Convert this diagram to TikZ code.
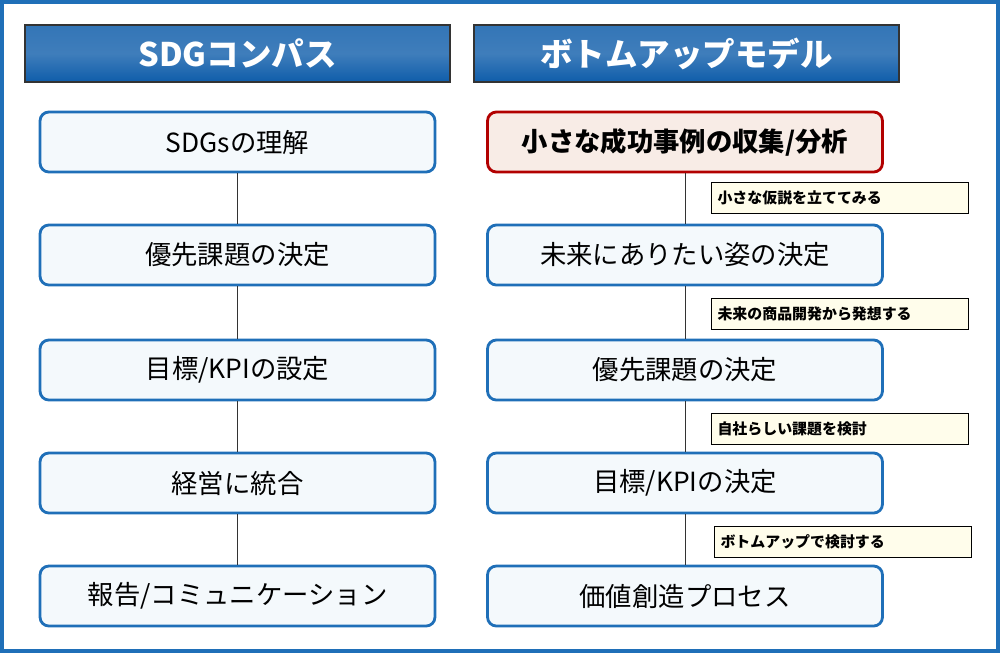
\documentclass[tikz,border=0pt]{standalone}
\usepackage{fontspec}
\setmainfont{Noto Sans CJK JP}
\usepackage{xcolor}
\usetikzlibrary{positioning}
\definecolor{frameblue}{HTML}{1F6FB8}
\definecolor{headblue}{HTML}{0F5DAA}
\definecolor{boxfill}{HTML}{F4F9FC}
\definecolor{redfill}{HTML}{F8ECE6}
\definecolor{notefill}{HTML}{FFFDEB}
\tikzset{
  header/.style={draw=black!80, line width=0.8pt, top color=headblue!85, bottom color=headblue, middle color=headblue!80,
    minimum width=8.5cm, minimum height=1.14cm, text=white, font=\fontsize{18.5}{22}\selectfont\bfseries},
  stepbox/.style={draw=frameblue, line width=1.6pt, rounded corners=5pt, fill=boxfill,
    minimum width=7.9cm, minimum height=1.2cm, font=\fontsize{15}{18}\selectfont},
  keybox/.style={stepbox, draw=red!70!black, fill=redfill, font=\fontsize{15}{18}\selectfont\bfseries},
  note/.style={draw=black, line width=0.4pt, fill=notefill, minimum width=5.12cm, minimum height=0.62cm,
    text width=4.9cm, align=left, font=\fontsize{8.5}{10}\selectfont\bfseries},
  link/.style={draw=black!80, line width=0.5pt}
}
\begin{document}
\begin{tikzpicture}[x=0.02cm, y=-0.02cm]
    % frame
    \useasboundingbox (0,0) rectangle (1000,653);
    \draw[frameblue, line width=1.8pt] (2,2) rectangle (998,651);

    % headers
    \node[header] (hleft) at (237.5,53.5) {SDGコンパス};
    \node[header] (hright) at (686.5,53.5) {ボトムアップモデル};

    % left column
    \node[stepbox] (l1) at (237.5,142) {SDGsの理解};
    \node[stepbox] (l2) at (237.5,255) {優先課題の決定};
    \node[stepbox] (l3) at (237.5,370) {目標/KPIの設定};
    \node[stepbox] (l4) at (237.5,483) {経営に統合};
    \node[stepbox] (l5) at (237.5,596) {報告/コミュニケーション};
    \foreach \a/\b in {l1/l2, l2/l3, l3/l4, l4/l5}
        \draw[link] (\a) -- (\b);

    % right column
    \node[keybox] (r1) at (685,142) {小さな成功事例の収集/分析};
    \node[stepbox] (r2) at (685,255) {未来にありたい姿の決定};
    \node[stepbox] (r3) at (685,370) {優先課題の決定};
    \node[stepbox] (r4) at (685,483) {目標/KPIの決定};
    \node[stepbox] (r5) at (685,596) {価値創造プロセス};
    \foreach \a/\b in {r1/r2, r2/r3, r3/r4, r4/r5}
        \draw[link] (\a) -- (\b);

    % notes
    \node[note] (n1) at (840,197.5) {小さな仮説を立ててみる};
    \node[note] (n2) at (840,313.5) {未来の商品開発から発想する};
    \node[note] (n3) at (840,428.5) {自社らしい課題を検討};
    \node[note] (n4) at (843,541.5) {ボトムアップで検討する};
\end{tikzpicture}
\end{document}
